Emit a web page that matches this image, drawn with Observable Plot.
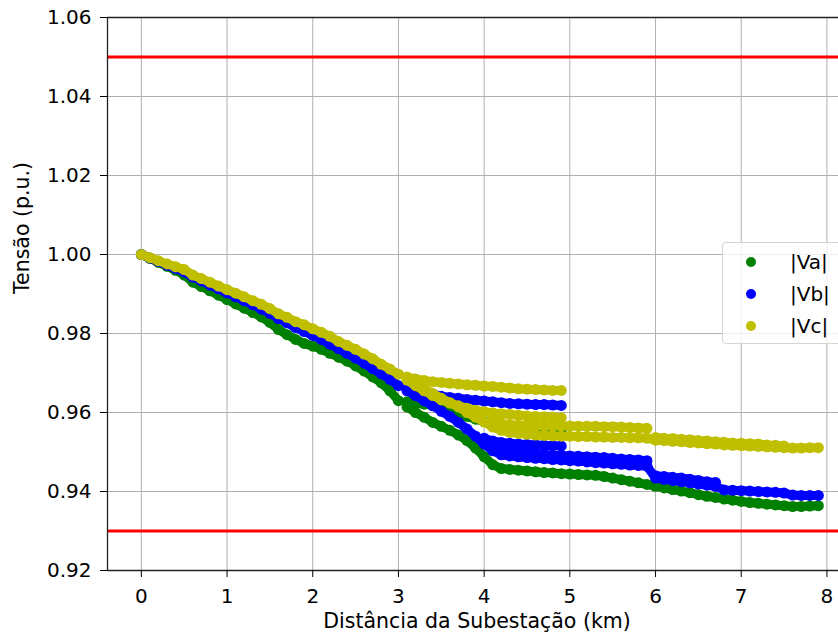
<!DOCTYPE html>
<html>
<head>
<meta charset="utf-8">
<script src="https://cdn.jsdelivr.net/npm/d3@7"></script>
<script src="https://cdn.jsdelivr.net/npm/@observablehq/plot@0.6"></script>
<style>
html, body { margin: 0; padding: 0; background: #fff; overflow: hidden; }
#chart { position: relative; width: 838px; height: 639px; font-family: "DejaVu Sans", sans-serif; }
#chart svg { display: block; }
#legend { position: absolute; left: 722px; top: 242px; width: 140px; height: 102px; box-sizing: border-box;
  border: 1px solid #d4d4d4; border-radius: 4px; background: rgba(255,255,255,0.8); }
.item { position: absolute; left: 0; height: 32px; width: 140px; }
.sw { position: absolute; left: 23px; top: 11px; width: 10px; height: 10px; border-radius: 50%; }
.lb { position: absolute; left: 67px; top: 0; line-height: 32px; font-size: 20px; color: #000; font-family: "DejaVu Sans", sans-serif; }
</style>
</head>
<body>
<div id="chart"></div>
<script>
// ---- labels and ticks ----
const xLabel = "Distância da Subestação (km)";
const yLabel = "Tensão (p.u.)";
const xTicks = [0, 1, 2, 3, 4, 5, 6, 7, 8];
const yTicks = [0.92, 0.94, 0.96, 0.98, 1.00, 1.02, 1.04, 1.06];
const xDomain = [-0.395, 8.135];
const yDomain = [0.92, 1.06];
const limits = [1.05, 0.93];
const phaseNames = ["|Va|", "|Vb|", "|Vc|"];
const phaseColors = ["#008000", "#0000ff", "#bfbf00"];

// ---- distances (km) ----
const distTrunk = [0,0.1,0.2,0.3,0.4,0.5,0.6,0.7,0.8,0.9,1.0,1.1,1.2,1.3,1.4,1.5,1.6,1.7,1.8,1.9,2.0,2.1,2.2,2.3,2.4,2.5,2.6,2.7,2.8,2.9,3.0];
const distMain = [3.1,3.2,3.3,3.4,3.5,3.6,3.7,3.8,3.9,4.0,4.1,4.2,4.3,4.4,4.5,4.6,4.7,4.8,4.9,5.0,5.1,5.2,5.3,5.4,5.5,5.6,5.7,5.8,5.9,6.0,6.1,6.2,6.3,6.4,6.5,6.6,6.7,6.8,6.9,7.0,7.1,7.2,7.3,7.4,7.5,7.6,7.7,7.8,7.9];
const distUpper = [3.1,3.2,3.3,3.4,3.5,3.6,3.7,3.8,3.9,4.0,4.1,4.2,4.3,4.4,4.5,4.6,4.7,4.8,4.9];
const distLate = [4.1,4.2,4.3,4.4,4.5,4.6,4.7,4.8,4.9,5.0,5.1,5.2,5.3,5.4,5.5,5.6,5.7,5.8,5.9];
const distShort = [4.0,4.1,4.2,4.3,4.4,4.5,4.6,4.7,4.8,4.9];
const distStep = [6.0,6.1,6.2,6.3,6.4,6.5,6.6,6.7];
const distTail = [6.0,6.1,6.2,6.3,6.4,6.5,6.6,6.7,6.8,6.9,7.0,7.1,7.2,7.3,7.4,7.5];

// ---- |Va| (p.u.) ----
const vaTrunk = [1.0000,0.9990,0.9980,0.9970,0.9960,0.9948,0.9930,0.9919,0.9908,0.9897,0.9886,0.9875,0.9864,0.9853,0.9842,0.9828,0.9810,0.9797,0.9785,0.9775,0.9768,0.9760,0.9750,0.9740,0.9730,0.9718,0.9705,0.9690,0.9675,0.9655,0.9630];
const vaMain = [0.9614,0.9600,0.9588,0.9575,0.9565,0.9555,0.9543,0.9529,0.9510,0.9488,0.9468,0.9458,0.9456,0.9454,0.9452,0.9450,0.9448,0.9447,0.9445,0.9444,0.9443,0.9442,0.9441,0.9438,0.9434,0.9430,0.9426,0.9422,0.9418,0.9413,0.9409,0.9405,0.9401,0.9397,0.9392,0.9388,0.9385,0.9381,0.9378,0.9375,0.9372,0.9370,0.9368,0.9366,0.9364,0.9362,0.9362,0.9363,0.9364];
const vaUpper = [0.9627,0.9624,0.9621,0.9618,0.9613,0.9606,0.9598,0.9590,0.9583,0.9577,0.9572,0.9568,0.9565,0.9563,0.9561,0.9560,0.9559,0.9558,0.9557];

// ---- |Vb| (p.u.) ----
const vbTrunk = [1.0000,0.9991,0.9982,0.9973,0.9965,0.9956,0.9943,0.9933,0.9923,0.9913,0.9903,0.9893,0.9883,0.9873,0.9862,0.9851,0.9838,0.9827,0.9815,0.9805,0.9795,0.9785,0.9773,0.9762,0.9750,0.9738,0.9725,0.9711,0.9698,0.9684,0.9668];
const vbMain = [0.9655,0.9643,0.9630,0.9617,0.9603,0.9590,0.9575,0.9558,0.9540,0.9520,0.9503,0.9493,0.9490,0.9488,0.9486,0.9484,0.9483,0.9481,0.9480,0.9478,0.9477,0.9475,0.9473,0.9472,0.9470,0.9469,0.9467,0.9466,0.9464,0.9434,0.9431,0.9428,0.9425,0.9422,0.9419,0.9416,0.9413,0.9404,0.9403,0.9402,0.9401,0.9400,0.9399,0.9398,0.9396,0.9391,0.9390,0.9390,0.9390];
const vbUpper = [0.9658,0.9654,0.9650,0.9647,0.9641,0.9638,0.9636,0.9633,0.9631,0.9629,0.9627,0.9625,0.9623,0.9622,0.9621,0.9620,0.9620,0.9619,0.9618];
const vbLate = [0.9508,0.9505,0.9502,0.9500,0.9498,0.9496,0.9494,0.9492,0.9491,0.9490,0.9489,0.9488,0.9487,0.9486,0.9484,0.9482,0.9481,0.9480,0.9478];
const vbShort = [0.9535,0.9528,0.9524,0.9522,0.9520,0.9519,0.9518,0.9517,0.9516,0.9515];
const vbStep = [0.9440,0.9438,0.9436,0.9434,0.9431,0.9428,0.9425,0.9423];

// ---- |Vc| (p.u.) ----
const vcTrunk = [1.0000,0.9992,0.9984,0.9976,0.9969,0.9962,0.9948,0.9939,0.9930,0.9920,0.9911,0.9902,0.9893,0.9883,0.9874,0.9863,0.9850,0.9841,0.9830,0.9822,0.9812,0.9803,0.9793,0.9780,0.9770,0.9760,0.9748,0.9736,0.9722,0.9710,0.9697];
const vcMain = [0.9685,0.9673,0.9660,0.9648,0.9636,0.9625,0.9614,0.9600,0.9588,0.9576,0.9563,0.9555,0.9550,0.9547,0.9545,0.9543,0.9542,0.9541,0.9540,0.9540,0.9539,0.9539,0.9538,0.9538,0.9537,0.9537,0.9536,0.9536,0.9535,0.9530,0.9529,0.9527,0.9526,0.9524,0.9523,0.9521,0.9520,0.9518,0.9517,0.9516,0.9515,0.9514,0.9513,0.9512,0.9511,0.9510,0.9510,0.9511,0.9511];
const vcTop = [0.9690,0.9685,0.9681,0.9678,0.9676,0.9674,0.9672,0.9670,0.9669,0.9667,0.9666,0.9664,0.9662,0.9660,0.9659,0.9658,0.9657,0.9656,0.9656];
const vcMid = [0.9682,0.9668,0.9655,0.9643,0.9632,0.9624,0.9617,0.9611,0.9606,0.9602,0.9599,0.9597,0.9595,0.9593,0.9591,0.9590,0.9589,0.9588,0.9587];
const vcLate = [0.9580,0.9572,0.9569,0.9568,0.9567,0.9567,0.9566,0.9566,0.9566,0.9566,0.9565,0.9565,0.9565,0.9564,0.9564,0.9563,0.9562,0.9561,0.9560];
const vcTail = [0.9537,0.9535,0.9534,0.9532,0.9531,0.9529,0.9528,0.9526,0.9525,0.9523,0.9522,0.9521,0.9520,0.9518,0.9517,0.9515];

// ---- build table ----
const phaseBranches = [
  [[distTrunk, vaTrunk], [distMain, vaMain], [distUpper, vaUpper]],
  [[distTrunk, vbTrunk], [distMain, vbMain], [distUpper, vbUpper], [distLate, vbLate], [distShort, vbShort], [distStep, vbStep]],
  [[distTrunk, vcTrunk], [distMain, vcMain], [distUpper, vcTop], [distUpper, vcMid], [distLate, vcLate], [distTail, vcTail]]
];
const rows = [];
phaseBranches.forEach((branches, i) => {
  branches.forEach(([ds, vs], j) => {
    ds.forEach((d, k) => rows.push({phase: phaseNames[i], branch: i + "-" + j, d, v: vs[k]}));
  });
});

const font = "DejaVu Sans";
const seriesMarks = [];
phaseNames.forEach((name, i) => {
  const sub = rows.filter(r => r.phase === name);
  seriesMarks.push(Plot.line(sub, {x: "d", y: "v", z: "branch", stroke: phaseColors[i], strokeWidth: 9, strokeLinecap: "round", strokeLinejoin: "round"}));
  seriesMarks.push(Plot.dot(sub, {x: "d", y: "v", r: 5.5, fill: phaseColors[i], stroke: null}));
});

const chart = Plot.plot({
  width: 838,
  height: 639,
  marginLeft: 107,
  marginRight: 0,
  marginTop: 17,
  marginBottom: 69,
  x: {domain: xDomain},
  y: {domain: yDomain},
  style: {fontFamily: font, fontSize: "20px", color: "#000", background: "#fff"},
  marks: [
    Plot.ruleX(xTicks, {stroke: "#b0b0b0", strokeWidth: 1}),
    Plot.ruleY(yTicks, {stroke: "#b0b0b0", strokeWidth: 1}),
    ...seriesMarks,
    Plot.ruleY(limits, {stroke: "#ff0000", strokeWidth: 3}),
    Plot.ruleY(yDomain, {stroke: "#222", strokeWidth: 1.3}),
    Plot.ruleX([xDomain[0]], {stroke: "#222", strokeWidth: 1.3}),
    Plot.axisX({ticks: xTicks, tickSize: 7, tickPadding: 11, fontSize: 20, label: null, fontFamily: font}),
    Plot.axisY({ticks: yTicks, tickSize: 7, tickPadding: 9, fontSize: 20, label: null, tickFormat: d3.format(".2f"), fontFamily: font}),
    Plot.text([yLabel], {text: d => d, frameAnchor: "left", dx: -85, rotate: -90, fontSize: 20.5, fontFamily: font}),
    Plot.text([xLabel], {text: d => d, frameAnchor: "bottom", dx: 4, dy: 57, fontSize: 20.5, fontFamily: font})
  ]
});

const root = document.getElementById("chart");
root.appendChild(chart);

// ---- legend ----
const legend = document.createElement("div");
legend.id = "legend";
phaseNames.forEach((name, i) => {
  const item = document.createElement("div");
  item.className = "item";
  item.style.top = (3 + 32 * i) + "px";
  const sw = document.createElement("span");
  sw.className = "sw";
  sw.style.background = phaseColors[i];
  const lb = document.createElement("span");
  lb.className = "lb";
  lb.textContent = name;
  item.appendChild(sw);
  item.appendChild(lb);
  legend.appendChild(item);
});
root.appendChild(legend);
</script>
</body>
</html>
